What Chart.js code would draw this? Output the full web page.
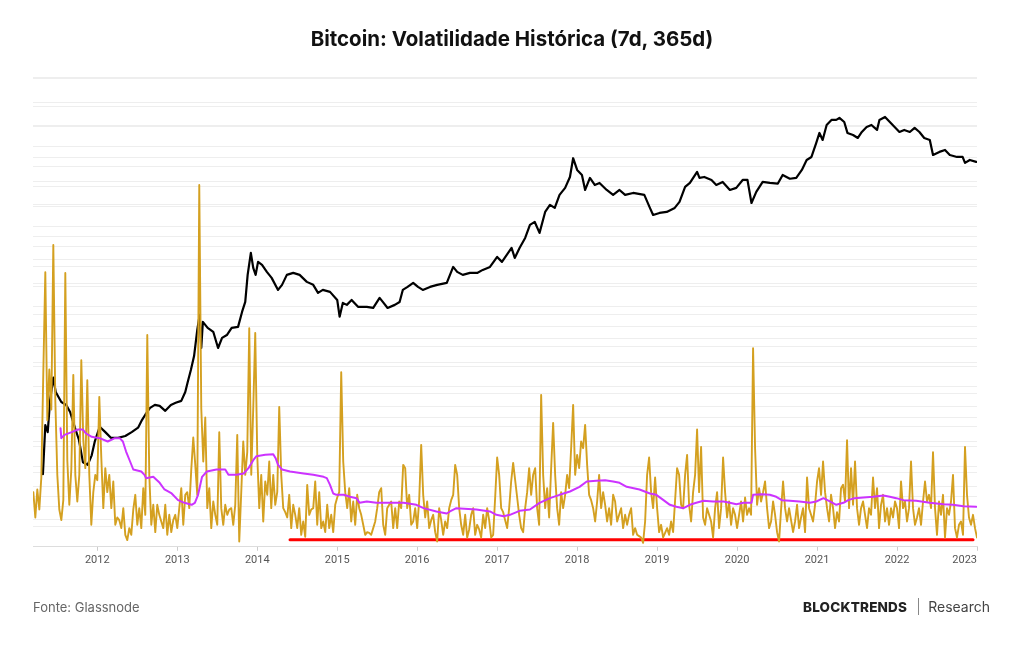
<!DOCTYPE html>
<html>
<head>
<meta charset="utf-8">
<script src="https://cdn.jsdelivr.net/npm/chart.js@4.4.0/dist/chart.umd.min.js"></script>
<style>
    body { margin: 0; background: #fff; font-family: Inter, "Noto Sans", sans-serif; }
    #wrap { position: relative; width: 1024px; height: 645px; }
    #chart { position: absolute; left: 0; top: 0; }
    .title { position: absolute; top: 26px; left: 0; width: 1024px; text-align: center; font-weight: 700; font-size: 20.5px; color: #111; }
    .source { position: absolute; left: 33px; top: 599px; font-size: 13px; color: #666; }
    .brand { position: absolute; left: 803px; top: 598px; display: flex; align-items: center; color: #222; }
    .brand b { font-weight: 800; font-size: 13.5px; letter-spacing: 0.2px; }
    .brand .sep { width: 1px; height: 17px; background: #888; margin: 0 9px 0 11px; }
    .brand span { font-size: 14px; color: #444; }
</style>
</head>
<body>
<div id="wrap">
    <canvas id="chart" width="1024" height="645"></canvas>
    <div class="title">Bitcoin: Volatilidade Histórica (7d, 365d)</div>
    <div class="source">Fonte: Glassnode</div>
    <div class="brand"><b>BLOCKTRENDS</b><div class="sep"></div><span>Research</span></div>
</div>
<script>
// eixo x em anos decimais
const yearTicks = [2012, 2013, 2014, 2015, 2016, 2017, 2018, 2019, 2020, 2021, 2022, 2023];

// preço BTC (USD), escala log
const priceYears = [
    2011.32, 2011.35, 2011.38, 2011.41, 2011.45, 2011.48, 2011.55, 2011.61, 2011.66, 2011.72,
    2011.77, 2011.82, 2011.88, 2011.93, 2011.97, 2012.03, 2012.10, 2012.17, 2012.26, 2012.35,
    2012.43, 2012.51, 2012.56, 2012.60, 2012.66, 2012.72, 2012.78, 2012.85, 2012.92, 2012.98,
    2013.05, 2013.10, 2013.13, 2013.17, 2013.21, 2013.25, 2013.28, 2013.30, 2013.32, 2013.38,
    2013.45, 2013.51, 2013.56, 2013.62, 2013.68, 2013.76, 2013.81, 2013.85, 2013.88, 2013.92,
    2013.95, 2013.98, 2014.01, 2014.06, 2014.12, 2014.18, 2014.26, 2014.31, 2014.37, 2014.45,
    2014.53, 2014.62, 2014.70, 2014.76, 2014.82, 2014.91, 2015.00, 2015.03, 2015.07, 2015.12,
    2015.18, 2015.26, 2015.37, 2015.45, 2015.53, 2015.57, 2015.63, 2015.72, 2015.78, 2015.82,
    2015.88, 2015.95, 2016.01, 2016.07, 2016.16, 2016.25, 2016.37, 2016.41, 2016.45, 2016.50,
    2016.57, 2016.66, 2016.75, 2016.82, 2016.91, 2017.00, 2017.06, 2017.12, 2017.18, 2017.22,
    2017.28, 2017.35, 2017.41, 2017.47, 2017.53, 2017.60, 2017.66, 2017.72, 2017.78, 2017.85,
    2017.91, 2017.95, 2018.00, 2018.06, 2018.10, 2018.16, 2018.22, 2018.28, 2018.37, 2018.45,
    2018.53, 2018.60, 2018.70, 2018.84, 2018.91, 2018.95, 2019.03, 2019.12, 2019.22, 2019.28,
    2019.35, 2019.41, 2019.50, 2019.53, 2019.59, 2019.68, 2019.74, 2019.82, 2019.91, 2019.99,
    2020.07, 2020.13, 2020.18, 2020.24, 2020.32, 2020.41, 2020.51, 2020.57, 2020.66, 2020.74,
    2020.81, 2020.87, 2020.93, 2020.99, 2021.03, 2021.07, 2021.12, 2021.18, 2021.24, 2021.28,
    2021.34, 2021.38, 2021.45, 2021.51, 2021.56, 2021.62, 2021.68, 2021.75, 2021.78, 2021.85,
    2021.91, 2021.97, 2022.03, 2022.09, 2022.16, 2022.22, 2022.28, 2022.34, 2022.41, 2022.45,
    2022.53, 2022.60, 2022.66, 2022.75, 2022.82, 2022.85, 2022.91, 2022.99
];
const priceUsd = [
    1.9, 8, 6.5, 16.7, 32, 21, 15.7, 14.4, 11.7, 7.4,
    5.2, 2.7, 2.5, 3.3, 5.0, 7.6, 6.5, 5.5, 5.5, 5.8,
    6.5, 7.4, 9.3, 10.8, 13.2, 14.4, 14.0, 12.1, 14.4, 15.3,
    16.2, 21, 28, 40, 60, 129, 200, 76, 163, 137,
    122, 76, 102, 111, 137, 141, 218, 292, 644, 1224,
    789, 644, 942, 863, 703, 590, 415, 481, 644, 682,
    644, 525, 481, 380, 415, 392, 310, 190, 284, 268,
    310, 253, 253, 245, 329, 292, 245, 268, 292, 415,
    453, 509, 453, 415, 453, 481, 509, 644, 813, 703,
    644, 682, 682, 745, 813, 1089, 942, 1153, 1416, 1057,
    1416, 1897, 2773, 3027, 2198, 4055, 4977, 4560, 6668, 8185,
    11272, 19500, 13840, 11967, 7709, 10965, 8933, 9462, 7709, 6668,
    7709, 6668, 7063, 6668, 4560, 3715, 3936, 4055, 4560, 5433,
    8414, 9462, 13061, 10965, 11272, 10328, 8933, 9750, 7709, 8185,
    10328, 10328, 5272, 7278, 9750, 9500, 9300, 11967, 10700, 11000,
    13840, 18535, 20230, 30479, 40832, 33266, 51523, 59704, 59704, 63241,
    56234, 40832, 38459, 35237, 41976, 48641, 51523, 44566, 59704, 65163,
    56234, 48641, 41976, 44566, 41976, 47206, 41976, 35237, 33266, 21429,
    23442, 24831, 21429, 20230, 20230, 16982, 18535, 17500
];

// volatilidade 7d (%), uma leitura a cada 0.025 ano
const vol7Start = 2011.2;
const vol7Step = 0.025;
const vol7Values = [
    82, 44, 86, 56, 104, 262, 412, 190, 266, 206,
    453, 220, 108, 56, 40, 70, 411, 130, 63, 116,
    258, 108, 68, 108, 280, 160, 118, 250, 108, 33,
    82, 108, 100, 225, 134, 58, 118, 82, 108, 58,
    98, 33, 44, 40, 28, 58, 18, 10, 28, 18,
    56, 78, 33, 58, 28, 88, 48, 318, 108, 33,
    63, 22, 63, 48, 38, 28, 63, 18, 48, 22,
    40, 48, 28, 58, 88, 33, 78, 82, 58, 116,
    164, 123, 78, 543, 208, 128, 194, 58, 88, 28,
    68, 48, 33, 172, 58, 33, 63, 48, 56, 58,
    33, 63, 168, 8, 82, 158, 108, 142, 328, 108,
    208, 321, 138, 58, 108, 38, 98, 78, 128, 58,
    108, 63, 82, 210, 108, 58, 52, 44, 78, 28,
    63, 48, 28, 58, 18, 38, 15, 93, 48, 56,
    58, 98, 33, 82, 28, 38, 22, 63, 28, 48,
    22, 63, 74, 82, 262, 128, 82, 58, 88, 38,
    68, 33, 78, 58, 48, 33, 18, 22, 21, 18,
    28, 38, 58, 82, 88, 33, 18, 58, 63, 68,
    28, 58, 28, 68, 58, 123, 118, 58, 78, 33,
    38, 58, 28, 70, 153, 78, 44, 68, 28, 40,
    48, 22, 8, 58, 40, 18, 38, 28, 58, 70,
    78, 123, 108, 58, 33, 18, 48, 14, 26, 48,
    58, 18, 33, 26, 14, 48, 28, 58, 40, 14,
    18, 74, 134, 108, 58, 52, 40, 28, 58, 98,
    126, 100, 74, 48, 28, 22, 58, 82, 118, 78,
    108, 118, 58, 33, 228, 108, 58, 88, 44, 118,
    186, 108, 58, 33, 82, 58, 78, 108, 88, 148,
    213, 108, 138, 118, 158, 148, 183, 123, 78, 70,
    58, 38, 68, 108, 58, 82, 63, 38, 58, 33,
    78, 68, 38, 48, 58, 28, 48, 33, 48, 58,
    18, 28, 18, 16, 14, 6, 38, 108, 134, 82,
    58, 104, 58, 22, 33, 14, 21, 28, 18, 38,
    22, 70, 118, 108, 63, 58, 108, 138, 63, 38,
    82, 108, 176, 82, 150, 44, 33, 58, 48, 38,
    14, 58, 82, 28, 58, 134, 82, 44, 68, 33,
    58, 48, 28, 48, 68, 38, 74, 48, 58, 48,
    298, 148, 63, 88, 68, 82, 98, 58, 28, 38,
    68, 48, 22, 8, 56, 98, 58, 38, 58, 40,
    22, 38, 63, 28, 44, 58, 22, 104, 58, 48,
    38, 63, 98, 118, 78, 128, 82, 58, 38, 78,
    58, 28, 52, 38, 88, 93, 68, 160, 58, 118,
    63, 128, 58, 33, 58, 68, 48, 28, 58, 48,
    104, 58, 88, 28, 63, 78, 38, 58, 33, 58,
    44, 68, 58, 28, 98, 58, 68, 38, 58, 128,
    58, 33, 44, 58, 33, 68, 98, 68, 78, 58,
    142, 58, 18, 68, 48, 78, 14, 58, 48, 68,
    108, 28, 14, 33, 38, 18, 150, 78, 44, 33,
    48, 28, 14
];

// volatilidade 365d (%)
const vol365Years = [
    2011.54, 2011.55, 2011.59, 2011.68, 2011.76, 2011.82, 2011.86, 2011.93, 2012.03, 2012.13,
    2012.22, 2012.28, 2012.32, 2012.36, 2012.41, 2012.45, 2012.55, 2012.59, 2012.61, 2012.70,
    2012.78, 2012.84, 2012.93, 2013.01, 2013.09, 2013.18, 2013.22, 2013.26, 2013.31, 2013.37,
    2013.49, 2013.60, 2013.64, 2013.74, 2013.83, 2013.89, 2013.95, 2013.99, 2014.10, 2014.20,
    2014.23, 2014.26, 2014.31, 2014.41, 2014.58, 2014.70, 2014.83, 2014.87, 2014.91, 2014.95,
    2014.99, 2015.08, 2015.16, 2015.24, 2015.28, 2015.37, 2015.49, 2015.70, 2015.83, 2015.99,
    2016.08, 2016.24, 2016.37, 2016.41, 2016.49, 2016.74, 2016.91, 2016.99, 2017.08, 2017.16,
    2017.28, 2017.41, 2017.53, 2017.66, 2017.78, 2017.91, 2018.03, 2018.12, 2018.24, 2018.35,
    2018.45, 2018.53, 2018.62, 2018.78, 2018.91, 2018.99, 2019.08, 2019.16, 2019.24, 2019.33,
    2019.41, 2019.49, 2019.58, 2019.70, 2019.83, 2019.91, 2019.99, 2020.08, 2020.18, 2020.20,
    2020.31, 2020.41, 2020.49, 2020.56, 2020.66, 2020.78, 2020.91, 2020.99, 2021.08, 2021.16,
    2021.24, 2021.33, 2021.39, 2021.47, 2021.58, 2021.70, 2021.83, 2021.91, 2021.99, 2022.08,
    2022.24, 2022.41, 2022.58, 2022.70, 2022.83, 2022.99
];
const vol365Values = [
    178, 163, 168, 172, 176, 176, 170, 165, 163, 158,
    163, 163, 158, 143, 128, 116, 113, 108, 103, 105,
    96, 86, 80, 70, 66, 63, 66, 78, 105, 113,
    116, 116, 108, 108, 110, 118, 130, 136, 138, 139,
    133, 123, 116, 113, 110, 108, 105, 103, 93, 80,
    78, 78, 75, 73, 66, 68, 66, 66, 66, 63,
    58, 53, 50, 53, 58, 56, 53, 48, 46, 48,
    54, 56, 66, 73, 78, 83, 90, 98, 99, 100,
    98, 96, 90, 86, 80, 78, 70, 63, 60, 58,
    63, 66, 69, 68, 68, 66, 64, 66, 66, 78,
    79, 78, 75, 70, 69, 68, 66, 68, 73, 68,
    63, 66, 70, 73, 74, 75, 77, 75, 73, 70,
    69, 66, 64, 63, 61, 60
];

// linha vermelha de referência (mínimo)
const floorYears = [2014.41, 2022.95];
const floorValues = [10.5, 10.5];

function pairs(xs, ys) {
    return ys.map((y, i) => ({ x: xs[i], y: y }));
}

const vol7Data = vol7Values.map((v, i) => ({ x: vol7Start + i * vol7Step, y: v }));
const xMin = 2011.196;

const ctx = document.getElementById('chart').getContext('2d');
new Chart(ctx, {
    type: 'line',
    data: {
        datasets: [
            {
                label: 'Volatilidade 365d',
                data: pairs(vol365Years, vol365Values),
                yAxisID: 'yVol',
                borderColor: '#cc33ff',
                borderWidth: 2
            },
            {
                label: 'Volatilidade 7d',
                data: vol7Data,
                yAxisID: 'yVol',
                borderColor: '#d4a020',
                borderWidth: 1.9
            },
            {
                label: 'Preço',
                data: pairs(priceYears, priceUsd),
                yAxisID: 'yPrice',
                borderColor: '#000000',
                borderWidth: 2.2
            },
            {
                label: 'Mínimo',
                data: pairs(floorYears, floorValues),
                yAxisID: 'yVol',
                borderColor: '#ff0000',
                borderWidth: 3
            }
        ]
    },
    options: {
        responsive: false,
        animation: false,
        events: [],
        layout: { padding: { top: 77, left: 33, right: 47, bottom: 75 } },
        elements: {
            point: { radius: 0 },
            line: { tension: 0, borderCapStyle: 'round', borderJoinStyle: 'round' }
        },
        plugins: {
            legend: { display: false },
            tooltip: { enabled: false }
        },
        scales: {
            x: {
                type: 'linear',
                min: xMin,
                max: 2023.0,
                afterBuildTicks: (scale) => {
                    // primeiro tick vazio na borda, para o ultimo rotulo alinhar a direita
                    scale.ticks = [{ value: xMin }].concat(yearTicks.map(v => ({ value: v })));
                },
                ticks: {
                    callback: (v) => (Math.abs(v - Math.round(v)) < 1e-6 ? String(Math.round(v)) : ''),
                    color: '#555',
                    font: { family: 'Roboto', size: 11 },
                    padding: 3,
                    align: 'inner',
                    maxRotation: 0,
                    autoSkip: false
                },
                grid: {
                    drawOnChartArea: false,
                    drawTicks: true,
                    tickLength: 4,
                    tickColor: (c) => (c.index === 0 ? 'rgba(0,0,0,0)' : '#cccccc')
                },
                border: { color: '#dddddd' }
            },
            yPrice: {
                type: 'logarithmic',
                position: 'left',
                min: 0.2275,
                max: 209400,
                afterBuildTicks: (scale) => {
                    scale.ticks = scale.ticks.filter(t => {
                        const s = t.value / Math.pow(10, Math.floor(Math.log10(t.value)));
                        return [1, 2, 5].some(k => Math.abs(s - k) < 0.01);
                    });
                },
                ticks: { display: false },
                grid: { color: '#eeeeee', drawTicks: false },
                border: { display: false }
            },
            yVol: {
                type: 'linear',
                position: 'right',
                min: 0,
                max: 705,
                ticks: { display: false, stepSize: 30 },
                grid: { color: '#eeeeee', drawTicks: false },
                border: { display: false }
            }
        }
    }
});
</script>
</body>
</html>
